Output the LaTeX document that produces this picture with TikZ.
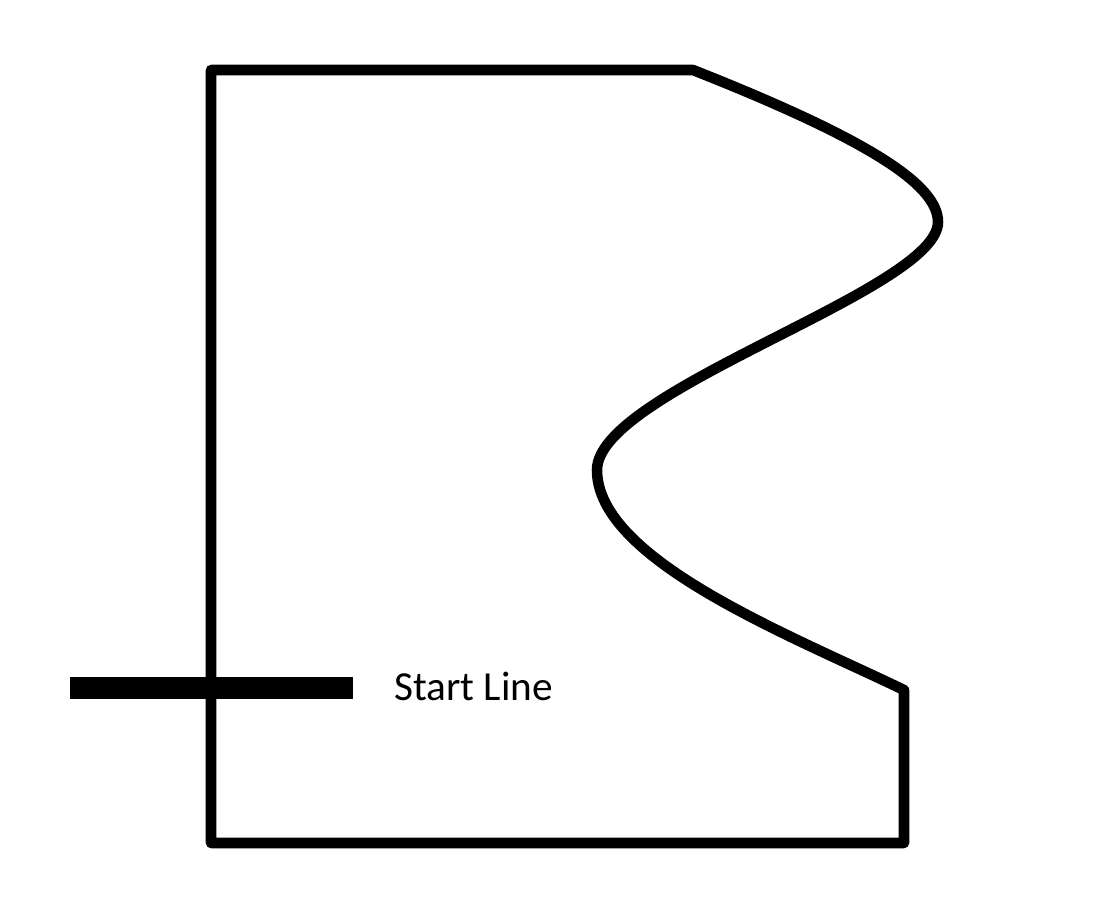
\documentclass[tikz,border=0pt]{standalone}
\usepackage{fontspec}
\setmainfont{Carlito}
\usetikzlibrary{positioning}
\begin{document}
\begin{tikzpicture}[x=0.02cm, y=-0.02cm,
                    outline/.style={line width=6pt, line join=round, line cap=round},
                    startbar/.style={line width=0.44cm},
                    label text/.style={font=\fontsize{23.5}{28}\selectfont, anchor=west}]
    \useasboundingbox (0,0) rectangle (1096,921);

    \coordinate (tl) at (211,70);
    \coordinate (tr) at (693,70);
    \coordinate (bulge) at (938,222);
    \coordinate (dent) at (597,470);
    \coordinate (lr) at (904,690);
    \coordinate (br) at (904,843);
    \coordinate (bl) at (211,843);

    \draw[outline] (tl) -- (tr)
        .. controls (870,140) and (938,185) .. (bulge)
        .. controls (938,290) and (597,390) .. (dent)
        .. controls (597,560) and (790,635) .. (lr)
        -- (br) -- (bl) -- cycle;

    \coordinate (bar start) at (70,688);
    \coordinate (bar end) at (353,688);
    \draw[startbar] (bar start) -- (bar end);
    \node[label text] (start) at (388,686) {Start Line};
\end{tikzpicture}
\end{document}
